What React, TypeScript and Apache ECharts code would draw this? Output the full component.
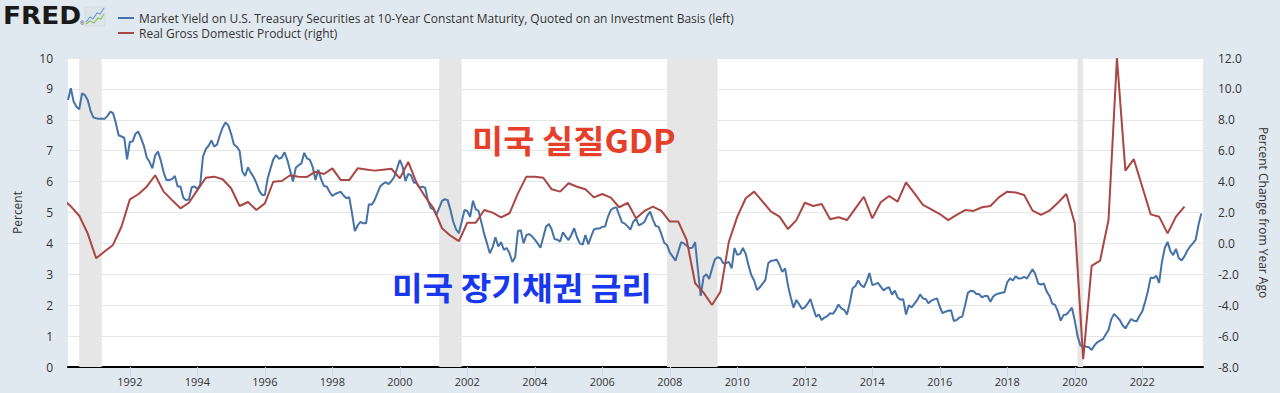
import React, { useEffect, useRef } from "react";
import * as echarts from "echarts";

// 10-Year Treasury market yield, monthly, starting March 1990 (percent, left axis)
const yieldFirstMonth = "1990-03";
const yield1990 = [8.64, 9.02, 8.59, 8.42, 8.34, 8.86, 8.8, 8.64, 8.3, 8.08];
const yield1991 = [8.05, 8.03, 8.04, 8.03, 8.12, 8.26, 8.22, 7.9, 7.5, 7.46, 7.42, 6.72];
const yield1992 = [7.29, 7.3, 7.55, 7.62, 7.4, 7.15, 6.78, 6.64, 6.43, 6.85, 6.97, 6.68];
const yield1993 = [6.3, 6.05, 6.05, 6.08, 6.18, 5.84, 5.84, 5.48, 5.4, 5.42, 5.82, 5.84];
const yield1994 = [5.76, 5.9, 6.81, 7.05, 7.16, 7.33, 7.13, 7.2, 7.5, 7.75, 7.91, 7.82];
const yield1995 = [7.55, 7.2, 7.13, 7.0, 6.32, 6.18, 6.46, 6.29, 6.15, 5.95, 5.7, 5.57];
const yield1996 = [5.57, 6.1, 6.42, 6.72, 6.86, 6.74, 6.78, 6.95, 6.7, 6.35, 6.0, 6.45];
const yield1997 = [6.53, 6.59, 6.93, 6.75, 6.7, 6.48, 6.05, 6.38, 6.08, 5.86, 5.84, 5.67];
const yield1998 = [5.54, 5.6, 5.64, 5.67, 5.55, 5.46, 5.5, 4.97, 4.4, 4.58, 4.7, 4.65];
const yield1999 = [4.65, 5.27, 5.25, 5.4, 5.62, 5.84, 5.93, 5.98, 5.92, 6.02, 6.15, 6.42];
const yield2000 = [6.7, 6.48, 6.02, 6.25, 6.2, 5.97, 5.95, 5.8, 5.84, 5.8, 5.38, 5.14];
const yield2001 = [5.1, 4.92, 5.15, 5.38, 5.43, 5.4, 5.08, 4.7, 4.45, 4.33, 4.7, 5.08];
const yield2002 = [5.05, 4.86, 5.38, 5.1, 5.05, 4.68, 4.3, 4.0, 3.68, 3.88, 4.2, 3.9];
const yield2003 = [4.04, 3.79, 3.85, 3.68, 3.4, 3.55, 4.4, 4.43, 4.0, 4.27, 4.3, 4.23];
const yield2004 = [4.12, 4.0, 3.86, 4.2, 4.55, 4.63, 4.45, 4.14, 4.12, 4.06, 4.36, 4.22];
const yield2005 = [4.11, 4.28, 4.49, 4.2, 4.0, 3.96, 4.27, 3.97, 4.22, 4.45, 4.48, 4.48];
const yield2006 = [4.54, 4.55, 4.86, 5.08, 5.14, 5.17, 4.92, 4.68, 4.64, 4.55, 4.45, 4.7];
const yield2007 = [4.8, 4.58, 4.63, 4.7, 4.9, 5.03, 4.77, 4.56, 4.54, 4.3, 4.02, 3.95];
const yield2008 = [3.7, 3.58, 3.44, 3.73, 4.04, 4.0, 3.92, 3.84, 3.86, 4.04, 3.14, 2.3];
const yield2009 = [2.92, 3.0, 2.85, 3.18, 3.48, 3.55, 3.52, 3.36, 3.36, 3.4, 3.19, 3.85];
const yield2010 = [3.63, 3.66, 3.85, 3.66, 3.28, 2.97, 2.8, 2.49, 2.58, 2.7, 2.82, 3.36];
const yield2011 = [3.44, 3.45, 3.48, 3.3, 3.08, 3.19, 2.65, 2.26, 1.92, 2.17, 2.03, 1.88];
const yield2012 = [1.93, 2.05, 2.2, 1.9, 1.63, 1.7, 1.52, 1.6, 1.65, 1.74, 1.72, 1.85];
const yield2013 = [2.02, 1.9, 1.85, 1.7, 2.08, 2.55, 2.62, 2.8, 2.65, 2.58, 2.78, 3.04];
const yield2014 = [2.65, 2.68, 2.72, 2.6, 2.48, 2.55, 2.58, 2.34, 2.47, 2.25, 2.18, 2.19];
const yield2015 = [1.7, 2.0, 1.93, 2.05, 2.17, 2.35, 2.22, 2.2, 2.06, 2.15, 2.19, 2.22];
const yield2016 = [1.95, 1.74, 1.79, 1.82, 1.84, 1.49, 1.52, 1.6, 1.63, 2.0, 2.4, 2.47];
const yield2017 = [2.45, 2.36, 2.36, 2.25, 2.3, 2.3, 2.11, 2.28, 2.35, 2.38, 2.4, 2.42];
const yield2018 = [2.75, 2.87, 2.8, 2.94, 2.86, 2.87, 2.92, 2.86, 3.02, 3.16, 3.0, 2.7];
const yield2019 = [2.67, 2.7, 2.45, 2.3, 2.05, 2.01, 1.8, 1.5, 1.68, 1.7, 1.8, 1.92];
const yield2020 = [1.5, 1.0, 0.7, 0.66, 0.66, 0.64, 0.55, 0.7, 0.8, 0.85, 0.9, 1.05];
const yield2021 = [1.2, 1.55, 1.72, 1.62, 1.52, 1.35, 1.25, 1.4, 1.55, 1.5, 1.48, 1.65];
const yield2022 = [1.8, 2.1, 2.45, 2.9, 2.87, 2.95, 2.72, 3.4, 3.85, 4.05, 3.75, 3.62];
const yield2023 = [3.82, 3.52, 3.45, 3.58, 3.76, 3.9, 4.0, 4.12, 4.6, 4.97];

// Real GDP, percent change from year ago, quarterly starting 1990 Q1 (right axis)
const gdpFirstQuarter = "1990-01";
const gdp1990s = [
  2.9, 2.4, 1.79, 0.65, -0.96, -0.53, -0.1, 1.08, 2.85, 3.18, 3.67, 4.41,
  3.35, 2.8, 2.27, 2.63, 3.45, 4.25, 4.32, 4.15, 3.57, 2.42, 2.68, 2.16,
  2.59, 3.99, 4.04, 4.41, 4.32, 4.3, 4.64, 4.49, 4.86, 4.1, 4.1, 4.86,
  4.79, 4.71, 4.77, 4.83,
];
const gdp2000s = [
  4.21, 5.27, 3.89, 3.02, 2.27, 0.98, 0.5, 0.15, 1.34, 1.34, 2.16, 1.99,
  1.69, 1.95, 3.24, 4.32, 4.32, 4.25, 3.5, 3.35, 3.89, 3.67, 3.5, 2.98,
  3.2, 2.96, 2.34, 2.63, 1.62, 2.1, 2.38, 2.1, 1.41, 1.41, 0.22, -2.58,
  -3.19, -3.99, -3.13, 0.11,
];
const gdp2010s = [
  1.73, 2.92, 3.35, 2.7, 2.05, 1.73, 0.93, 1.51, 2.63, 2.42, 2.55, 1.56,
  1.69, 1.51, 2.27, 3.02, 1.62, 2.66, 3.07, 2.7, 3.95, 3.24, 2.49, 2.2,
  1.9, 1.51, 1.84, 2.16, 2.1, 2.34, 2.42, 2.98, 3.35, 3.3, 3.13, 2.12,
  1.84, 2.12, 2.63, 3.2,
];
const gdp2020s = [1.3, -7.5, -1.46, -1.12, 1.51, 12.0, 4.71, 5.45, 3.67, 1.88, 1.73, 0.65, 1.73, 2.38];

// Recessions (shaded), month ranges
const recessionStarts = ["1990-07", "2001-03", "2007-12", "2020-02"];
const recessionEnds = ["1991-03", "2001-11", "2009-06", "2020-04"];

const xTickYears = [1992, 1994, 1996, 1998, 2000, 2002, 2004, 2006, 2008, 2010, 2012, 2014, 2016, 2018, 2020, 2022];
const xMin = "1990-03";
const xMaxYear = 2023.8;

const yieldName =
  "Market Yield on U.S. Treasury Securities at 10-Year Constant Maturity, Quoted on an Investment Basis (left)";
const gdpName = "Real Gross Domestic Product (right)";
const gdpLabel = "미국 실질GDP";
const yieldLabel = "미국 장기채권 금리";

const toYear = (ym: string) => {
  const [y, m] = ym.split("-").map(Number);
  return y + (m - 1) / 12;
};

const FONT = "'Open Sans', 'Noto Sans', sans-serif";

export default function App() {
  const ref = useRef<HTMLDivElement>(null);

  useEffect(() => {
    if (!ref.current) return;
    const chart = echarts.init(ref.current, undefined, { renderer: "svg" });

    const yieldValues = [
      ...yield1990, ...yield1991, ...yield1992, ...yield1993, ...yield1994, ...yield1995,
      ...yield1996, ...yield1997, ...yield1998, ...yield1999, ...yield2000, ...yield2001,
      ...yield2002, ...yield2003, ...yield2004, ...yield2005, ...yield2006, ...yield2007,
      ...yield2008, ...yield2009, ...yield2010, ...yield2011, ...yield2012, ...yield2013,
      ...yield2014, ...yield2015, ...yield2016, ...yield2017, ...yield2018, ...yield2019,
      ...yield2020, ...yield2021, ...yield2022, ...yield2023,
    ];
    const y0 = toYear(yieldFirstMonth);
    const yieldData = yieldValues.map((v, i) => [y0 + i / 12, v]);

    const gdpValues = [...gdp1990s, ...gdp2000s, ...gdp2010s, ...gdp2020s];
    const g0 = toYear(gdpFirstQuarter);
    const gdpData = gdpValues.map((v, i) => [g0 + i / 4, v]);

    const recessionAreas = recessionStarts.map((s, i) => [
      { xAxis: toYear(s) },
      { xAxis: toYear(recessionEnds[i]) },
    ]);

    chart.setOption({
      animation: false,
      backgroundColor: "#e1e9f0",
      textStyle: { fontFamily: FONT },
      grid: {
        left: 68,
        right: 77,
        top: 58,
        bottom: 26,
        show: true,
        backgroundColor: "#ffffff",
        borderWidth: 0,
      },
      legend: {
        orient: "vertical",
        left: 113,
        top: 7,
        itemWidth: 16,
        itemHeight: 2,
        itemGap: 3,
        icon: "rect",
        textStyle: { fontSize: 12, color: "#333333", fontFamily: FONT },
        data: [yieldName, gdpName],
      },
      xAxis: {
        type: "value",
        min: toYear(xMin),
        max: xMaxYear,
        axisLine: { show: true, lineStyle: { color: "#000000", width: 2 } },
        axisTick: {
          show: true,
          length: 10,
          lineStyle: { color: "#ccd6eb" },
          customValues: xTickYears,
        },
        axisLabel: {
          color: "#333333",
          fontSize: 11,
          margin: 9,
          customValues: xTickYears,
          formatter: (v: number) => String(Math.round(v)),
        },
        splitLine: { show: false },
      },
      yAxis: [
        {
          type: "value",
          min: 0,
          max: 10,
          interval: 1,
          name: "Percent",
          nameLocation: "middle",
          nameGap: 45,
          nameRotate: 90,
          nameTextStyle: { color: "#333333", fontSize: 12 },
          axisLine: { show: false },
          axisTick: { show: false },
          axisLabel: { color: "#333333", fontSize: 12, margin: 15 },
          splitLine: { show: true, lineStyle: { color: "#e6e6e6", width: 1 } },
        },
        {
          type: "value",
          min: -8,
          max: 12,
          interval: 2,
          position: "right",
          name: "Percent Change from Year Ago",
          nameLocation: "middle",
          nameGap: 54,
          nameRotate: -90,
          nameTextStyle: { color: "#333333", fontSize: 12 },
          axisLine: { show: false },
          axisTick: { show: false },
          axisLabel: {
            color: "#333333",
            fontSize: 12,
            margin: 15,
            formatter: (v: number) => v.toFixed(1),
          },
          splitLine: { show: false },
        },
      ],
      series: [
        {
          name: yieldName,
          type: "line",
          data: yieldData,
          yAxisIndex: 0,
          showSymbol: false,
          symbol: "none",
          clip: true,
          color: "#4572a7",
          lineStyle: { color: "#4572a7", width: 2 },
          markArea: {
            silent: true,
            itemStyle: { color: "#e6e6e6" },
            data: recessionAreas,
          },
          z: 2,
        },
        {
          name: gdpName,
          type: "line",
          data: gdpData,
          yAxisIndex: 1,
          showSymbol: false,
          symbol: "none",
          clip: true,
          color: "#aa4643",
          lineStyle: { color: "#aa4643", width: 2 },
          z: 3,
        },
      ],
      graphic: [
        {
          type: "text",
          left: 3,
          top: 4,
          scaleX: 1.1,
          style: {
            text: "FRED",
            font: "900 24px 'DejaVu Sans', sans-serif",
            fill: "#1a1a1a",
          },
        },
        {
          type: "text",
          left: 80,
          top: 20,
          style: { text: "®", font: "6px sans-serif", fill: "#333" },
        },
        {
          type: "rect",
          shape: { x: 85, y: 7, width: 20, height: 19 },
          style: { fill: "#dde4ea", stroke: "#c9d2da", lineWidth: 0.5 },
        },
        {
          type: "polyline",
          shape: { points: [[86, 22], [90, 17], [93, 19], [97, 13], [100, 14], [104, 8]] },
          style: { stroke: "#6e9bd1", lineWidth: 1.2, fill: "none" },
        },
        {
          type: "polyline",
          shape: { points: [[86, 24], [90, 21], [94, 23], [98, 18], [101, 19], [104, 14]] },
          style: { stroke: "#8cbf5a", lineWidth: 1.2, fill: "none" },
        },
        {
          type: "text",
          x: 472,
          y: 123,
          scaleX: 1.06,
          style: {
            text: gdpLabel,
            font: "bold 32px 'Noto Sans CJK KR', sans-serif",
            fill: "#e6402b",
          },
          z: 10,
        },
        {
          type: "text",
          x: 392,
          y: 270,
          scaleX: 1.04,
          style: {
            text: yieldLabel,
            font: "bold 32px 'Noto Sans CJK KR', sans-serif",
            fill: "#1838f0",
          },
          z: 10,
        },
      ],
    });

    return () => chart.dispose();
  }, []);

  return (
    <div
      ref={ref}
      style={{ position: "absolute", left: 0, top: 0, width: 1280, height: 393 }}
    />
  );
}
